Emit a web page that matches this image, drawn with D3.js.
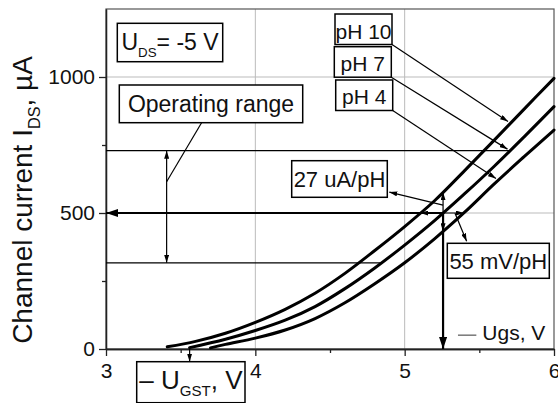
<!DOCTYPE html>
<html>
<head>
<meta charset="utf-8">
<script src="https://cdn.jsdelivr.net/npm/d3@7/dist/d3.min.js"></script>
<style>
  body { margin: 0; background: #fff; }
  svg text { font-family: "Liberation Sans", Arial, sans-serif; fill: #111; }
</style>
</head>
<body>
<svg id="chart" width="558" height="403"></svg>
<script>
// transfer curves, [Ugs (V), Ids (uA)]
var ph10 = [[3.41,8],[3.6,28],[3.8,58],[4.0,98],[4.2,146],[4.4,205],[4.6,278],[4.8,362],[5.0,450],[5.2,545],[5.4,655],[5.6,768],[5.8,882],[6.0,995]];
var ph7  = [[3.56,5],[3.8,36],[4.0,68],[4.2,106],[4.4,156],[4.6,222],[4.8,298],[5.0,382],[5.2,472],[5.4,570],[5.6,672],[5.8,780],[6.0,891]];
var ph4  = [[3.70,4],[3.8,17],[4.0,40],[4.2,70],[4.4,112],[4.6,170],[4.8,240],[5.0,317],[5.2,405],[5.4,502],[5.6,607],[5.8,707],[6.0,805]];
var curveLabels = ["pH 10", "pH 7", "pH 4"];
var pointerI = [830, 729, 621];      // where each pH label points on its curve

var xTicks = [3, 4, 5, 6];
var xMinor = [3.5, 4.5, 5.5];
var yTicks = [0, 500, 1000];
var yMinor = [250, 750];

var opRange = [317, 729];            // operating range limits, uA
var setPoint = 500;                  // working current, uA
var opArrowV = 3.406;

var svg = d3.select("#chart"),
    x = d3.scaleLinear().domain([3, 6]).range([106, 554]),
    y = d3.scaleLinear().domain([0, 1250]).range([349, 9]);

// helpers to read the curves
function valueAt(c, v) {
  for (var i = 0; i < c.length - 1; i++) {
    if (v >= c[i][0] && v <= c[i+1][0])
      return c[i][1] + (v - c[i][0]) / (c[i+1][0] - c[i][0]) * (c[i+1][1] - c[i][1]);
  }
  return c[c.length-1][1];
}
function voltAt(c, I) {
  for (var i = 0; i < c.length - 1; i++) {
    if (I >= c[i][1] && I <= c[i+1][1])
      return c[i][0] + (I - c[i][1]) / (c[i+1][1] - c[i][1]) * (c[i+1][0] - c[i][0]);
  }
  return c[c.length-1][0];
}

function richText(sel, parts, fs) {
  parts.forEach(function(p, k) {
    var t = sel.append("tspan").text(p[0]);
    if (p[1]) t.attr("font-size", fs * 0.58).attr("dy", fs * 0.28);
    else if (k > 0 && parts[k-1][1]) t.attr("dy", -fs * 0.28);
  });
}

// arrow heads
var defs = svg.append("defs");
function marker(id, len, wid) {
  defs.append("marker").attr("id", id)
    .attr("viewBox", "0 " + (-wid/2) + " " + len + " " + wid)
    .attr("refX", len).attr("refY", 0)
    .attr("markerWidth", len).attr("markerHeight", wid)
    .attr("markerUnits", "userSpaceOnUse")
    .attr("orient", "auto-start-reverse")
    .append("path")
    .attr("d", "M0," + (-wid/2) + "L" + len + ",0L0," + (wid/2) + "Z")
    .attr("fill", "#000");
}
marker("arr", 8, 5);
marker("big", 12, 8);

// grid
svg.append("g").selectAll("line").data([4, 5]).join("line")
  .attr("x1", d => x(d)).attr("x2", d => x(d))
  .attr("y1", y(0)).attr("y2", y(1250))
  .attr("stroke", "#bbb").attr("stroke-width", 1);
svg.append("g").selectAll("line").data([500, 1000]).join("line")
  .attr("x1", x(3)).attr("x2", x(6))
  .attr("y1", d => y(d)).attr("y2", d => y(d))
  .attr("stroke", "#bbb").attr("stroke-width", 1);

// frame
svg.append("rect")
  .attr("x", x(3)).attr("y", y(1250))
  .attr("width", x(6) - x(3)).attr("height", y(0) - y(1250))
  .attr("fill", "none").attr("stroke", "#555").attr("stroke-width", 1.2);

// axes
function styleAxis(g) {
  g.attr("font-family", "Liberation Sans, Arial, sans-serif").attr("font-size", 21);
  g.selectAll("path, line").attr("stroke", "#222").attr("stroke-width", 1.3);
  g.selectAll("text").attr("fill", "#111");
}
svg.append("g").attr("transform", "translate(0," + y(0) + ")")
  .call(d3.axisBottom(x).tickValues(xTicks).tickSize(7).tickSizeOuter(0).tickPadding(7).tickFormat(d3.format("d")))
  .call(styleAxis);
svg.append("g").attr("transform", "translate(0," + y(0) + ")")
  .call(d3.axisBottom(x).tickValues(xMinor).tickSize(4).tickSizeOuter(0).tickFormat(""))
  .call(styleAxis);
svg.append("g").attr("transform", "translate(" + x(3) + ",0)")
  .call(d3.axisLeft(y).tickValues(yTicks).tickSize(7).tickSizeOuter(0).tickPadding(4).tickFormat(d3.format("d")))
  .call(styleAxis);
svg.append("g").attr("transform", "translate(" + x(3) + ",0)")
  .call(d3.axisLeft(y).tickValues(yMinor).tickSize(4).tickSizeOuter(0).tickFormat(""))
  .call(styleAxis);

// y title
var yt = svg.append("text")
  .attr("transform", "translate(32," + 200 + ") rotate(-90)")
  .attr("text-anchor", "middle").attr("font-size", 28);
richText(yt, [["Channel current I",0],["DS",1],[", \u00b5A",0]], 28);

// operating range
var ann = svg.append("g").attr("stroke", "#000").attr("fill", "none");
ann.selectAll(".op").data(opRange).join("line")
  .attr("x1", x(3)).attr("x2", d => x(voltAt(ph7, d)))
  .attr("y1", d => y(d)).attr("y2", d => y(d))
  .attr("stroke-width", 1.3);
ann.append("line")
  .attr("x1", x(opArrowV)).attr("x2", x(opArrowV))
  .attr("y1", y(opRange[1])).attr("y2", y(opRange[0]))
  .attr("stroke-width", 1.2)
  .attr("marker-start", "url(#arr)").attr("marker-end", "url(#arr)");

// set point: thick arrows to both axes
var vSet = voltAt(ph7, setPoint);
ann.append("line")
  .attr("x1", x(vSet)).attr("y1", y(setPoint))
  .attr("x2", x(3)).attr("y2", y(setPoint))
  .attr("stroke-width", 2.2).attr("marker-end", "url(#big)");
ann.append("line")
  .attr("x1", x(vSet)).attr("y1", y(setPoint))
  .attr("x2", x(vSet)).attr("y2", y(0))
  .attr("stroke-width", 2.2).attr("marker-end", "url(#big)");

// sensitivity double arrows
ann.append("line")
  .attr("x1", x(voltAt(ph10, setPoint))).attr("x2", x(voltAt(ph4, setPoint)))
  .attr("y1", y(setPoint)).attr("y2", y(setPoint))
  .attr("stroke-width", 1.2)
  .attr("marker-start", "url(#arr)").attr("marker-end", "url(#arr)");
ann.append("line")
  .attr("x1", x(vSet)).attr("x2", x(vSet))
  .attr("y1", y(valueAt(ph10, vSet))).attr("y2", y(valueAt(ph4, vSet)))
  .attr("stroke-width", 1.2)
  .attr("marker-start", "url(#arr)").attr("marker-end", "url(#arr)");

// curves
var line = d3.line().x(d => x(d[0])).y(d => y(d[1])).curve(d3.curveCatmullRom.alpha(0.5));
svg.append("g").selectAll("path").data([ph10, ph7, ph4]).join("path")
  .attr("d", line)
  .attr("fill", "none").attr("stroke", "#000").attr("stroke-width", 3)
  .attr("stroke-linecap", "round");

// label boxes
function box(parts, v, i, w, h, fs, dy) {
  var left = x(v), top = y(i);
  svg.append("rect").attr("x", left).attr("y", top).attr("width", w).attr("height", h)
    .attr("fill", "#fff").attr("stroke", "#000").attr("stroke-width", 1.5);
  var t = svg.append("text").attr("x", left + w/2).attr("y", top + dy)
    .attr("text-anchor", "middle").attr("font-size", fs);
  richText(t, parts, fs);
  return {left: left, top: top, right: left + w, bottom: top + h};
}

box([["U",0],["DS",1],["= -5 V",0]], 3.0757, 1197.4, 105.4, 38.4, 23, 27);
var opBox = box([["Operating range",0]], 3.0891, 970.6, 183.4, 37.7, 23, 27);
ann.append("line")
  .attr("x1", x(3.64)).attr("y1", opBox.bottom)
  .attr("x2", x(opArrowV)).attr("y2", y(615))
  .attr("stroke-width", 1.2);

var phBoxAt = [[4.5335, 1231.6], [4.5288, 1111.4], [4.5382, 989.0]];
var phCurves = [ph10, ph7, ph4];
curveLabels.forEach(function(lbl, k) {
  var b = box([[lbl,0]], phBoxAt[k][0], phBoxAt[k][1], 57, 30.5, 21, 24.5);
  var tx = x(voltAt(phCurves[k], pointerI[k])), ty = y(pointerI[k]);
  var dx = tx - b.right, dyy = ty - b.bottom, len = Math.sqrt(dx*dx + dyy*dyy);
  ann.append("line")
    .attr("x1", b.right).attr("y1", b.bottom)
    .attr("x2", tx - dx / len * 3).attr("y2", ty - dyy / len * 3)
    .attr("stroke-width", 1.2).attr("marker-end", "url(#arr)");
});

var b27 = box([["27 uA/pH",0]], 4.2435, 692.3, 95.6, 36.6, 22, 26);
ann.append("line")
  .attr("x1", x(5.257)).attr("y1", y(529))
  .attr("x2", b27.right + 2).attr("y2", y(577))
  .attr("stroke-width", 1.2).attr("marker-end", "url(#arr)");

var b55 = box([["55 mV/pH",0]], 5.2855, 388.6, 102, 35, 22, 26);
ann.append("line")
  .attr("x1", x(5.337)).attr("y1", y(499))
  .attr("x2", x(5.415)).attr("y2", b55.top - 2)
  .attr("stroke-width", 1.2).attr("marker-end", "url(#arr)");

var bG = box([["\u2013 U",0],["GST",1],[",  V",0]], 3.2056, -46.7, 108.3, 41, 26, 27);
ann.append("line")
  .attr("x1", x(ph7[0][0])).attr("y1", y(ph7[0][1]) + 1)
  .attr("x2", x(ph7[0][0])).attr("y2", bG.top)
  .attr("stroke-width", 1.2).attr("marker-end", "url(#arr)");

// axis legend "— Ugs, V"
ann.append("line")
  .attr("x1", x(5.357)).attr("x2", x(5.48))
  .attr("y1", y(51)).attr("y2", y(51))
  .attr("stroke", "#333").attr("stroke-width", 1);
svg.append("text").attr("x", x(5.52)).attr("y", y(51) + 5)
  .attr("font-size", 21).text("Ugs, V");
</script>
</body>
</html>
